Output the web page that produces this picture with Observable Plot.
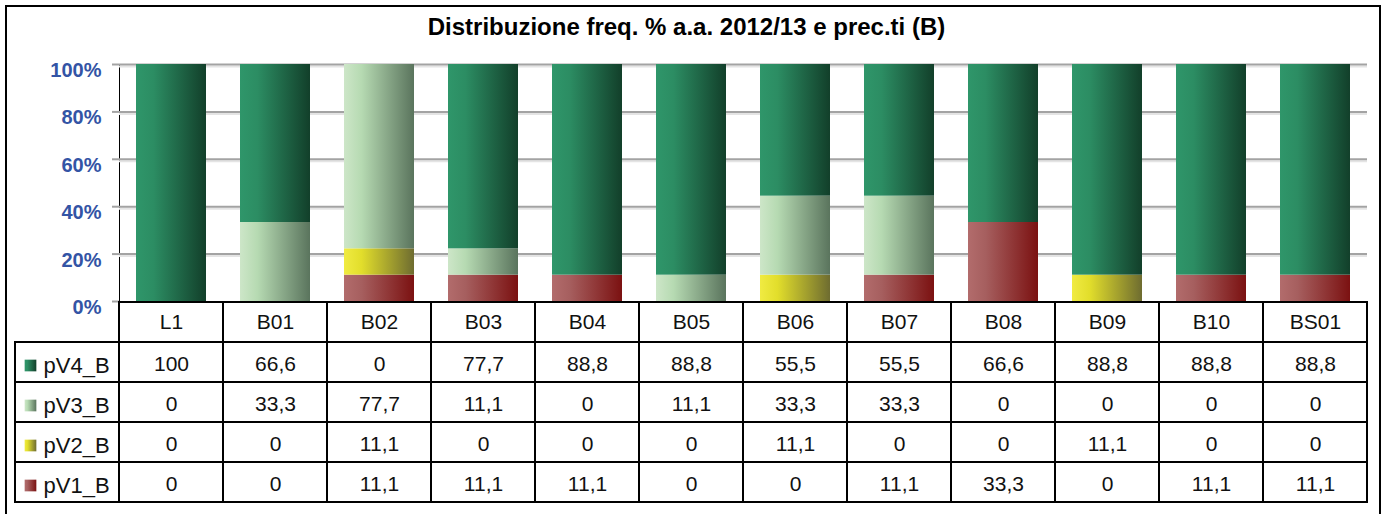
<!DOCTYPE html>
<html>
<head>
<meta charset="utf-8">
<script src="https://cdn.jsdelivr.net/npm/d3@7"></script>
<script src="https://cdn.jsdelivr.net/npm/@observablehq/plot@0.6"></script>
<style>
  html, body { margin: 0; padding: 0; background: #fff; }
  #wrap { position: relative; width: 1384px; height: 514px; overflow: hidden; background: #fff;
          font-family: 'Liberation Sans', Arial, sans-serif; }
  #frame { position: absolute; left: 5px; top: 5px; width: 1376px; height: 600px;
           border: 2px solid #000; box-sizing: border-box; }
  #title { position: absolute; left: 0; top: 15px; width: 1373px; text-align: center;
           font: bold 24px/23px 'Liberation Sans', Arial, sans-serif; color: #000; }
  #chart { position: absolute; left: 0; top: 0; }
  #table { position: absolute; left: 0; top: 300px; }
</style>
</head>
<body>
<div id="wrap">
  <div id="frame"></div>
  <div id="chart"></div>
  <div id="table"></div>
  <div id="title"></div>
</div>
<script>
// ---- data ----
const categories = ["L1","B01","B02","B03","B04","B05","B06","B07","B08","B09","B10","BS01"];
const pV4_B = [100, 66.6, 0, 77.7, 88.8, 88.8, 55.5, 55.5, 66.6, 88.8, 88.8, 88.8];
const pV3_B = [0, 33.3, 77.7, 11.1, 0, 11.1, 33.3, 33.3, 0, 0, 0, 0];
const pV2_B = [0, 0, 11.1, 0, 0, 0, 11.1, 0, 0, 11.1, 0, 0];
const pV1_B = [0, 0, 11.1, 11.1, 11.1, 0, 0, 11.1, 33.3, 0, 11.1, 11.1];
const tableOrder = ["pV4_B", "pV3_B", "pV2_B", "pV1_B"];
const stackOrder = ["pV1_B", "pV2_B", "pV3_B", "pV4_B"];
const yTicks = [0, 0.2, 0.4, 0.6, 0.8, 1];
const titleText = "Distribuzione freq. % a.a. 2012/13 e prec.ti (B)";

const seriesValues = { pV4_B, pV3_B, pV2_B, pV1_B };
const long = stackOrder.flatMap(s => categories.map((c, i) => ({ cat: c, series: s, value: seriesValues[s][i] })));
const tableValues = tableOrder.flatMap(s => categories.map((c, i) => ({ cat: c, series: s, value: seriesValues[s][i] })));

// gradient stops (left light -> right dark)
const gradients = {
  pV4_B: [["0%", "#2f966a"], ["25%", "#2c8d63"], ["100%", "#123f2a"]],
  pV3_B: [["0%", "#cde6c8"], ["25%", "#b6dab2"], ["100%", "#5a745d"]],
  pV2_B: [["0%", "#f0eb42"], ["25%", "#e2de2b"], ["100%", "#6e6c30"]],
  pV1_B: [["0%", "#b26c6c"], ["25%", "#a65f5f"], ["100%", "#7b1111"]]
};
const colorScale = { domain: stackOrder, range: stackOrder.map(s => `url(#g-${s})`) };
const fmt = v => String(v).replace(".", ",");
const baseStyle = { fontFamily: "'Liberation Sans', Arial, sans-serif", fontSize: "18px", background: "transparent", overflow: "visible" };

document.getElementById("title").textContent = titleText;

// ---- chart ----
const chart = Plot.plot({
  width: 1384, height: 302,
  marginTop: 64, marginBottom: 1, marginLeft: 119, marginRight: 17,
  style: baseStyle,
  x: { domain: categories, paddingInner: 0.327, paddingOuter: 0.1635, axis: null },
  y: { domain: [0, 1], ticks: yTicks, tickFormat: d3.format(".0%"), tickSize: 7, tickPadding: 11, label: null, line: true },
  color: colorScale,
  marks: [
    Plot.ruleY(yTicks.filter(d => d > 0), { stroke: "#e4e4e4", strokeWidth: 2, dy: 2 }),
    Plot.ruleY(yTicks.filter(d => d > 0), { stroke: "#a3a3a3", strokeWidth: 2 }),
    Plot.barY(long, Plot.stackY({ x: "cat", y: "value", fill: "series", offset: "normalize" }))
  ]
});
// gradient defs
const defs = d3.select(chart).insert("defs", ":first-child");
for (const [s, stops] of Object.entries(gradients)) {
  const g = defs.append("linearGradient").attr("id", `g-${s}`).attr("x1", 0).attr("x2", 1).attr("y1", 0).attr("y2", 0);
  for (const [o, c] of stops) g.append("stop").attr("offset", o).attr("stop-color", c);
}
const ax = d3.select(chart).selectAll('[aria-label^="y-axis"]');
ax.selectAll("text").style("fill", "#3354a5").style("font-weight", "bold").style("font-size", "20px").attr("dy", "0.3em");
ax.selectAll("line, path").style("stroke", "#a3a3a3").style("stroke-width", "2px");
document.getElementById("chart").appendChild(chart);

// ---- data table ----
const rows = ["cat", ...tableOrder];
const cols = ["", ...categories];
const cells = [
  ...categories.map(c => ({ col: c, row: "cat" })),
  ...tableOrder.flatMap(s => cols.map(c => ({ col: c, row: s })))
];
const table = Plot.plot({
  width: 1384, height: 214,
  marginTop: 1, marginBottom: 11, marginLeft: 15, marginRight: 17,
  style: baseStyle,
  x: { domain: cols, padding: 0, axis: null },
  y: { domain: rows, padding: 0, axis: null },
  color: colorScale,
  marks: [
    Plot.cell(cells, { x: "col", y: "row", fill: "none", stroke: "#000", strokeWidth: 2, inset: 0 }),
    Plot.text(categories, { x: d => d, y: () => "cat", text: d => d, fontSize: 21, fill: "#111" }),
    Plot.text(tableValues, { x: "cat", y: "series", text: d => fmt(d.value), fontSize: 21, fill: "#111", dy: 2 }),
    Plot.text(tableOrder, { x: () => "", y: d => d, text: d => d, textAnchor: "start", dx: -24, dy: 3, fontSize: 22, fill: "#111" }),
    Plot.dot(tableOrder, { x: () => "", y: d => d, fill: d => d, symbol: "square", r: 6.6, dx: -37, dy: 3 })
  ]
});
document.getElementById("table").appendChild(table);
</script>
</body>
</html>
